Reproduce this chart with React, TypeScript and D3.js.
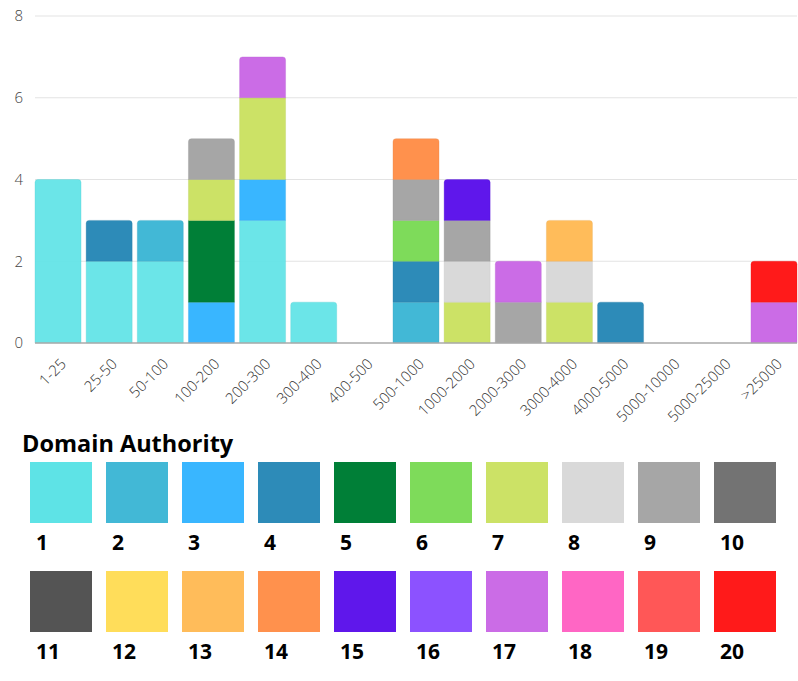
import * as d3 from "d3"

// ranges of backlinks (x categories)
const categories = [
  "1-25", "25-50", "50-100", "100-200", "200-300", "300-400", "400-500",
  "500-1000", "1000-2000", "2000-3000", "3000-4000", "4000-5000",
  "5000-10000", "5000-25000", ">25000",
]

// Domain Authority 1..20 colours
const daColors = [
  "#5ee3e6", "#42b8d6", "#39b6ff", "#2d8bb8", "#007f37",
  "#7edb5a", "#cce266", "#d9d9d9", "#a6a6a6", "#737373",
  "#545454", "#ffdd5a", "#ffbc5a", "#ff914d", "#5f17eb",
  "#8c52ff", "#cb6ce6", "#ff66c4", "#ff5757", "#ff1a1a",
]
const daLabels = daColors.map((_, i) => String(i + 1))

// counts per DA, one value per category
const da1 = [4, 2, 2, 0, 3, 1, 0, 0, 0, 0, 0, 0, 0, 0, 0]
const da2 = [0, 0, 1, 0, 0, 0, 0, 1, 0, 0, 0, 0, 0, 0, 0]
const da3 = [0, 0, 0, 1, 1, 0, 0, 0, 0, 0, 0, 0, 0, 0, 0]
const da4 = [0, 1, 0, 0, 0, 0, 0, 1, 0, 0, 0, 1, 0, 0, 0]
const da5 = [0, 0, 0, 2, 0, 0, 0, 0, 0, 0, 0, 0, 0, 0, 0]
const da6 = [0, 0, 0, 0, 0, 0, 0, 1, 0, 0, 0, 0, 0, 0, 0]
const da7 = [0, 0, 0, 1, 2, 0, 0, 0, 1, 0, 1, 0, 0, 0, 0]
const da8 = [0, 0, 0, 0, 0, 0, 0, 0, 1, 0, 1, 0, 0, 0, 0]
const da9 = [0, 0, 0, 1, 0, 0, 0, 1, 1, 1, 0, 0, 0, 0, 0]
const da13 = [0, 0, 0, 0, 0, 0, 0, 0, 0, 0, 1, 0, 0, 0, 0]
const da14 = [0, 0, 0, 0, 0, 0, 0, 1, 0, 0, 0, 0, 0, 0, 0]
const da15 = [0, 0, 0, 0, 0, 0, 0, 0, 1, 0, 0, 0, 0, 0, 0]
const da17 = [0, 0, 0, 0, 1, 0, 0, 0, 0, 1, 0, 0, 0, 0, 1]
const da20 = [0, 0, 0, 0, 0, 0, 0, 0, 0, 0, 0, 0, 0, 0, 1]

const series: { da: number; values: number[] }[] = [
  { da: 1, values: da1 },
  { da: 2, values: da2 },
  { da: 3, values: da3 },
  { da: 4, values: da4 },
  { da: 5, values: da5 },
  { da: 6, values: da6 },
  { da: 7, values: da7 },
  { da: 8, values: da8 },
  { da: 9, values: da9 },
  { da: 13, values: da13 },
  { da: 14, values: da14 },
  { da: 15, values: da15 },
  { da: 17, values: da17 },
  { da: 20, values: da20 },
]

const yTicks = [0, 2, 4, 6, 8]
const legendTitle = "Domain Authority"

const W = 798
const H = 681
const margin = { top: 16, right: 1, left: 35, bottom: 338 }
const font = "'Open Sans', 'DejaVu Sans', sans-serif"

function topRounded(x: number, y: number, w: number, h: number, r: number) {
  const rr = Math.min(r, h / 2, w / 2)
  return `M${x},${y + h}V${y + rr}Q${x},${y} ${x + rr},${y}H${x + w - rr}Q${x + w},${y} ${x + w},${y + rr}V${y + h}Z`
}

export default function App() {
  const x = d3
    .scaleBand()
    .domain(categories)
    .range([margin.left, W - margin.right])
    .paddingInner(0.1)
    .paddingOuter(0)
  const y = d3
    .scaleLinear()
    .domain([0, 8])
    .range([H - margin.bottom, margin.top])

  const table = categories.map((c, i) => {
    const row: Record<string, number | string> = { cat: c }
    series.forEach((s) => (row["da" + s.da] = s.values[i]))
    return row
  })
  const stack = d3.stack<Record<string, number | string>>().keys(series.map((s) => "da" + s.da))
  const layers = stack(table as any)

  const totals = categories.map((_, i) => d3.sum(series, (s) => s.values[i]))

  // legend layout
  const lx = d3
    .scaleBand()
    .domain(daLabels.slice(0, 10))
    .range([30, 30 + 76 * 10 - 14])
    .paddingInner(14 / 76)
    .paddingOuter(0)
  const rowY = [462, 571]

  return (
    <div style={{ position: "absolute", left: 0, top: 0 }}>
      <svg width={W} height={H} style={{ display: "block", background: "#fff" }}>
        {yTicks.map((t) => (
          <g key={t}>
            {t > 0 && (
              <line x1={margin.left} x2={W - margin.right} y1={y(t)} y2={y(t)} stroke="#e3e3e3" strokeWidth={1} />
            )}
            <text x={23} y={y(t)} dy="0.35em" textAnchor="end" fontFamily={font} fontWeight={300} fontSize={15} fill="#444">
              {t}
            </text>
          </g>
        ))}

        {layers.map((layer, li) => {
          const s = series[li]
          const color = daColors[s.da - 1]
          return (
            <g key={s.da}>
              {layer.map((d, i) => {
                if (d[1] - d[0] <= 0) return null
                const bx = x(categories[i])!
                const bw = x.bandwidth()
                const y0 = y(d[0])
                const y1 = y(d[1])
                const isTop = d[1] === totals[i]
                return (
                  <path
                    key={i}
                    d={isTop ? topRounded(bx, y1, bw, y0 - y1, 3) : `M${bx},${y0}V${y1}H${bx + bw}V${y0}Z`}
                    fill={color}
                    fillOpacity={s.da === 1 ? 0.92 : 1}
                    stroke={d3.color(color)!.darker(0.3).formatHex()}
                    strokeOpacity={0.5}
                    strokeWidth={0.6}
                  />
                )
              })}
            </g>
          )
        })}

        <line x1={margin.left} x2={W - margin.right} y1={y(0)} y2={y(0)} stroke="#aaa" strokeWidth={1.5} />

        {categories.map((c) => {
          const cx = x(c)! + x.bandwidth() / 2
          return (
            <text
              key={c}
              transform={`translate(${cx + 9},${y(0) + 22}) rotate(-45)`}
              textAnchor="end"
              fontFamily={font}
              fontWeight={300}
              fontSize={15}
              fill="#333"
            >
              {c}
            </text>
          )
        })}

        <text x={22} y={452} fontFamily={font} fontWeight={700} fontSize={23.5} fill="#000">
          {legendTitle}
        </text>
        {daLabels.map((lab, i) => {
          const row = Math.floor(i / 10)
          const col = daLabels[i % 10]
          const sx = lx(col)!
          const sy = rowY[row]
          return (
            <g key={lab}>
              <rect x={sx} y={sy} width={lx.bandwidth()} height={61} fill={daColors[i]} />
              <text x={sx + 6} y={sy + 88} fontFamily={font} fontWeight={700} fontSize={21} fill="#000">
                {lab}
              </text>
            </g>
          )
        })}
      </svg>
    </div>
  )
}
